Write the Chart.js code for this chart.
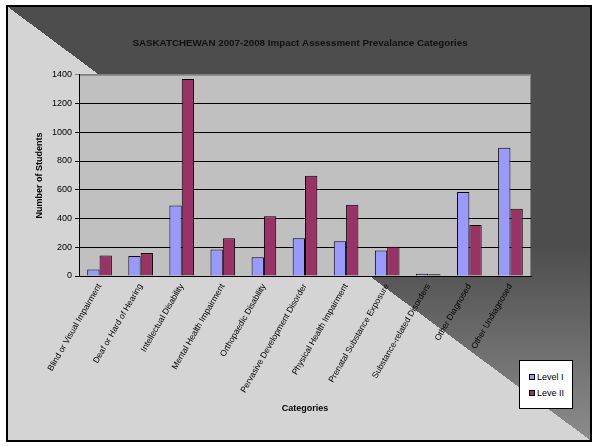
<!DOCTYPE html>
<html lang="en">
<head>
  <meta charset="UTF-8" />
  <title>Saskatchewan Impact Assessment</title>
  <script src="https://cdn.jsdelivr.net/npm/chart.js"></script>
  <style>
    *{margin:0;padding:0;box-sizing:border-box}
    body,html{width:596px;height:446px;background:#fff;font-family:"Liberation Sans",Arial,sans-serif;overflow:hidden}
    #frame{position:absolute;left:6px;top:5px;width:586px;height:437px;border:2px solid #000;
      background:linear-gradient(to top right,#d4d4d4 50%,transparent 50%),
                 linear-gradient(to bottom,#4d4d4d 0%,#4d4d4d 55%,#8c8c8c 100%)}
    #chart{position:absolute;left:0;top:0}
    .legend{position:absolute;left:519px;top:360px;width:54px;height:49px;background:#fff;border:1px solid #000;
      padding:8px 0 0 9px;font-size:9px;color:#000}
    .legend div{display:flex;align-items:center;height:16px}
    .sw{width:6px;height:6px;border:1px solid #000;margin-right:2px}
  </style>
</head>
<body>
  <div id="frame"></div>
  <canvas id="chart" width="596" height="446"></canvas>
  <div class="legend" id="legend"></div>

  <script>
    const categories = ['Blind or Visual Impairment','Deaf or Hard of Hearing','Intellectual Disability',
      'Mental Health Impairment','Orthopaedic Disability','Pervasive Development Disorder',
      'Physical Health Impairment','Prenatal Substance Exposure','Substance-related Disorders',
      'Other Diagnosed','Other Undiagnosed'];
    const seriesNames = ['Level I','Leve II'];
    const levelI  = [45,140,490,185,130,263,242,178,15,585,893];
    const levelII = [142,160,1370,262,415,697,495,203,12,355,467];
    const colors = ['#9999ff','#993366'];

    const plotBg = {
      id:'plotBg',
      afterLayout(chart){
        // title is centred on the whole frame, not on the plot
        const t = chart.titleBlock;
        if (t) { t.left = 34; t.right = 566; }
      },
      beforeDraw(chart){
        const {ctx, chartArea:a} = chart;
        ctx.save();
        ctx.fillStyle = '#c0c0c0';
        ctx.fillRect(a.left, a.top, a.right-a.left, a.bottom-a.top);
        ctx.strokeStyle = '#808080';
        ctx.lineWidth = 1;
        ctx.beginPath();
        ctx.moveTo(a.left, a.top+0.5); ctx.lineTo(a.right-0.5, a.top+0.5); ctx.lineTo(a.right-0.5, a.bottom);
        ctx.stroke();
        ctx.restore();
      }
    };

    const font = 'Liberation Sans, Arial, sans-serif';

    new Chart(document.getElementById('chart'), {
      type:'bar',
      data:{
        labels:categories,
        datasets:[
          {label:seriesNames[0], data:levelI, backgroundColor:colors[0], borderColor:'#000', borderWidth:1},
          {label:seriesNames[1], data:levelII, backgroundColor:colors[1], borderColor:'#000', borderWidth:1}
        ]
      },
      options:{
        responsive:false,
        animation:false,
        layout:{padding:{top:37,left:20,right:65,bottom:20}},
        datasets:{bar:{categoryPercentage:0.6, barPercentage:1}},
        plugins:{
          legend:{display:false},
          tooltip:{enabled:false},
          title:{display:true, text:'SASKATCHEWAN 2007-2008 Impact Assessment Prevalance Categories',
            color:'#111', font:{family:font, size:9.8, weight:'bold'}, padding:{top:0,bottom:26}}
        },
        scales:{
          x:{
            afterFit(s){ s.height = 150; },
            grid:{display:false, drawTicks:false},
            border:{color:'#000', width:1},
            ticks:{autoSkip:false, maxRotation:60, minRotation:60, padding:6, color:'#000',
              font:{family:font, size:8.5}},
            title:{display:true, text:'Categories', color:'#000', font:{family:font, size:9, weight:'bold'},
              padding:{top:0,bottom:12}}
          },
          y:{
            min:0, max:1400,
            afterFit(s){ s.width = 59; },
            grid:{color:c => c.tick && c.tick.value === 1400 ? '#808080' : '#000', tickLength:4},
            border:{color:'#000', width:1},
            ticks:{stepSize:200, padding:3, color:'#000', font:{family:font, size:9},
              callback:v => String(v)},
            title:{display:true, text:'Number of Students', color:'#000', font:{family:font, size:9, weight:'bold'},
              padding:{top:14,bottom:0}}
          }
        }
      },
      plugins:[plotBg]
    });

    // legend
    const lg = document.getElementById('legend');
    seriesNames.forEach((n,i) => {
      lg.innerHTML += '<div><span class="sw" style="background:'+colors[i]+'"></span>'+n+'</div>';
    });
  </script>
</body>
</html>
